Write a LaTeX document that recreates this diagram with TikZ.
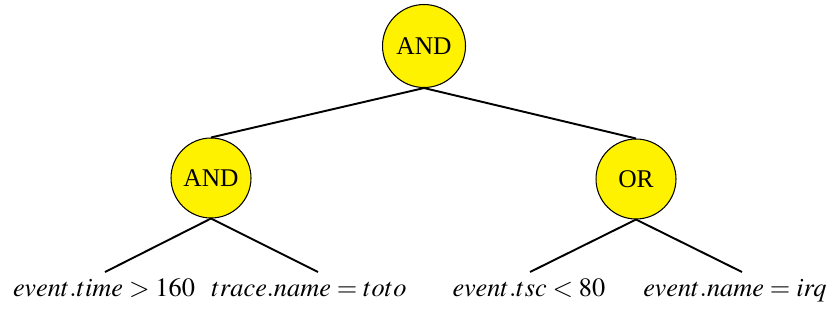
\documentclass[tikz,border=0pt]{standalone}
\usepackage{amsmath}
\usepackage{mathptmx}
\usepackage[no-math]{fontspec}
\setmainfont{Liberation Serif}
\usepackage{tikz}
\usetikzlibrary{positioning}

\begin{document}
\begin{tikzpicture}[x=0.02cm,y=-0.02cm]
\tikzstyle{op}=[circle,draw=black,line width=0.6pt,fill=yellow,minimum size=1.6cm,inner sep=0pt,font=\fontsize{14.5}{17}\selectfont]
\tikzstyle{cond}=[anchor=base,inner sep=0pt,font=\fontsize{15}{18}\selectfont]
\tikzstyle{edge}=[black,line width=1.1pt]
\useasboundingbox (0,0) rectangle (837,329);
% operators
\node [op,minimum size=1.66cm] (root) at (424,46) {AND};
\node [op] (and1) at (211,178) {AND};
\node [op] (or1) at (636,179) {OR};
\draw [edge] (root.south) -- (and1.north);
\draw [edge] (root.south) -- (or1.north);
% leaves
\coordinate (l1) at (105,272);
\coordinate (l2) at (318,272);
\coordinate (l3) at (530,272);
\coordinate (l4) at (742,272);
\draw [edge] (and1.south) -- (l1);
\draw [edge] (and1.south) -- (l2);
\draw [edge] (or1.south) -- (l3);
\draw [edge] (or1.south) -- (l4);
\node [cond] (c1) at (104,296) {$event.time > 160$};
\node [cond] (c2) at (309,296) {$trace.name = toto$};
\node [cond] (c3) at (529,296) {$event.tsc < 80$};
\node [cond] (c4) at (735,296) {$event.name = irq$};
\end{tikzpicture}
\end{document}
